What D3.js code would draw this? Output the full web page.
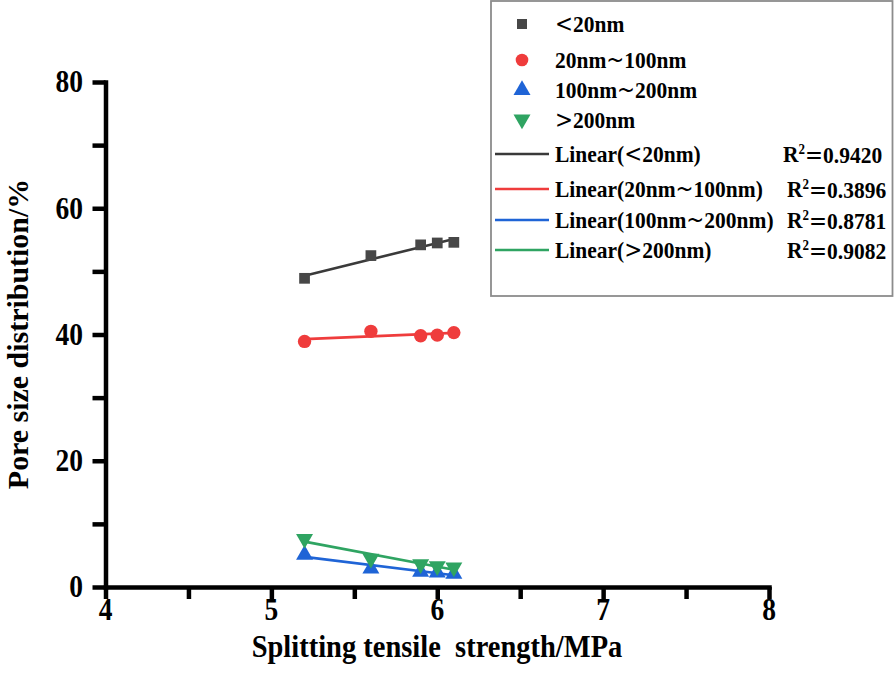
<!DOCTYPE html>
<html><head><meta charset="utf-8">
<script src="https://cdn.jsdelivr.net/npm/d3@7"></script>
<style>
body{margin:0;background:#fff;}
svg{display:block;}
text{font-family:"Liberation Serif","Times New Roman",serif;font-weight:bold;fill:#000;}
</style></head>
<body><svg id="chart" width="896" height="689"></svg>
<script>
const strength = [5.2, 5.6, 5.9, 6.0, 6.1];
const below20 = [48.9, 52.5, 54.2, 54.5, 54.6];
const from20to100 = [38.9, 40.5, 39.8, 39.9, 40.3];
const from100to200 = [5.1, 2.9, 2.4, 2.3, 2.1];
const above200 = [7.6, 4.5, 3.6, 3.3, 3.1];
const seriesNames = ["＜20nm", "20nm～100nm", "100nm～200nm", "＞200nm"];
const r2Labels = ["0.9420", "0.3896", "0.8781", "0.9082"];
const xTicks = [4, 5, 6, 7, 8];
const yTicks = [0, 20, 40, 60, 80];
const xTitle = "Splitting tensile  strength/MPa";
const yTitle = "Pore size distribution/%";

const colors = ["#474747", "#ef3c3c", "#1f64d6", "#2fa462"];
const lineColors = ["#3a3a3a", "#ef3c3c", "#1f64d6", "#2fa462"];
const shapes = [d3.symbolSquare, d3.symbolCircle, d3.symbolTriangle, d3.symbolTriangle];
const seriesValues = [below20, from20to100, from100to200, above200];
const STRETCH = 1.12;

const svg = d3.select("#chart");
const x = d3.scaleLinear().domain([4, 8]).range([105.5, 769]);
const y = d3.scaleLinear().domain([0, 80]).range([587, 82]);

function fit(xs, ys) {
  const mx = d3.mean(xs), my = d3.mean(ys);
  let sxy = 0, sxx = 0;
  xs.forEach((v, i) => { sxy += (v - mx) * (ys[i] - my); sxx += (v - mx) * (v - mx); });
  const b = sxy / sxx, a = my - b * mx;
  return v => a + b * v;
}

const special = {"＜": "<", "＞": ">", "～": "~", "＝": "="};
function richText(t, str) {
  let buf = "";
  const flush = () => { if (buf) { t.append("tspan").text(buf); buf = ""; } };
  for (const ch of str) {
    if (special[ch]) {
      flush();
      t.append("tspan").attr("font-family", "DejaVu Sans").attr("font-weight", "normal").text(special[ch]);
    } else buf += ch;
  }
  flush();
  return t;
}

// axes
const ax = svg.append("g").attr("transform", "translate(0,587)")
  .call(d3.axisBottom(x).tickValues(d3.range(4, 8.01, 0.5)).tickSize(12).tickSizeOuter(0).tickFormat(""));
const ay = svg.append("g").attr("transform", "translate(105.5,0)")
  .call(d3.axisLeft(y).tickValues(d3.range(0, 80.1, 10)).tickSize(13).tickSizeOuter(0).tickFormat(""));
[ax, ay].forEach(g => {
  g.select(".domain").attr("stroke", "#000").attr("stroke-width", 4.5).attr("stroke-linecap", "square");
  g.selectAll(".tick line").attr("stroke", "#000").attr("stroke-width", 4.5);
});
// tick labels
svg.append("g").selectAll("text").data(xTicks).join("text")
  .attr("transform", d => `translate(${x(d)},620) scale(1,${STRETCH})`)
  .attr("text-anchor", "middle").attr("font-size", 27.5).text(d => d);
svg.append("g").selectAll("text").data(yTicks).join("text")
  .attr("transform", d => `translate(83,${y(d)}) scale(1,${STRETCH})`)
  .attr("text-anchor", "end").attr("dy", "0.34em").attr("font-size", 27.5).text(d => d);

// axis titles
svg.append("text").attr("transform", `translate(437,657) scale(1,${STRETCH})`).attr("text-anchor", "middle")
  .attr("font-size", 28.5).style("white-space", "pre").text(xTitle);
svg.append("text").attr("transform", "translate(28,334) rotate(-90) scale(1.05,1)").attr("text-anchor", "middle")
  .attr("font-size", 28.5).text(yTitle);

// fit lines
const ext = d3.extent(strength);
seriesValues.forEach((vals, i) => {
  const f = fit(strength, vals);
  svg.append("line").attr("x1", x(ext[0])).attr("y1", y(f(ext[0])))
    .attr("x2", x(ext[1])).attr("y2", y(f(ext[1])))
    .attr("stroke", lineColors[i]).attr("stroke-width", 2.6);
});

// points
const sizes = [115, 140, 125, 125];
seriesValues.forEach((vals, i) => {
  svg.append("g").selectAll("path").data(vals).join("path")
    .attr("d", d3.symbol(shapes[i], sizes[i]))
    .attr("transform", (d, j) => `translate(${x(strength[j])},${y(d)})` + (i === 3 ? " rotate(180)" : ""))
    .attr("fill", colors[i]);
});

// legend
const lg = svg.append("g");
lg.append("rect").attr("x", 491).attr("y", 1).attr("width", 401.5).attr("height", 295)
  .attr("fill", "#fff").attr("stroke", "#8c8c8c").attr("stroke-width", 1.8);
const LF = 21.5;
const symRows = [24, 60, 90, 119.5];
seriesNames.forEach((n, i) => {
  lg.append("path").attr("d", d3.symbol(shapes[i], i === 0 ? 100 : 125))
    .attr("transform", `translate(522,${symRows[i]})` + (i === 3 ? " rotate(180)" : ""))
    .attr("fill", colors[i]);
  richText(lg.append("text").attr("transform", `translate(555,${symRows[i]}) scale(1,${STRETCH})`)
    .attr("dy", "0.35em").attr("font-size", LF), n);
});
const lineRows = [154, 189, 220, 250];
seriesNames.forEach((n, i) => {
  lg.append("line").attr("x1", 495).attr("x2", 549).attr("y1", lineRows[i]).attr("y2", lineRows[i])
    .attr("stroke", lineColors[i]).attr("stroke-width", 2.6);
  richText(lg.append("text").attr("transform", `translate(555,${lineRows[i]}) scale(1,${STRETCH})`)
    .attr("dy", "0.35em").attr("font-size", LF), "Linear(" + n + ")");
  const t = lg.append("text").attr("transform", `translate(${i === 0 ? 783 : 787},${lineRows[i]}) scale(1,${STRETCH})`)
    .attr("dy", "0.35em").attr("font-size", LF);
  t.append("tspan").text("R");
  t.append("tspan").attr("font-size", 13).attr("dy", "-0.6em").text("2");
  const rest = t.append("tspan").attr("dy", "0.37em");
  rest.append("tspan").attr("font-family", "DejaVu Sans").attr("font-weight", "normal").text("=");
  rest.append("tspan").text(r2Labels[i]);
});
</script></body></html>
